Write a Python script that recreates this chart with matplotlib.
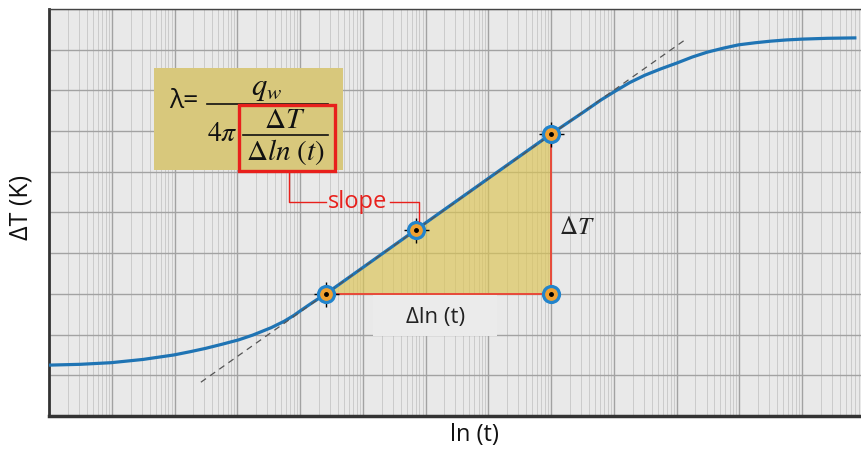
import numpy as np
import matplotlib
matplotlib.use("Agg")
import matplotlib.pyplot as plt
from matplotlib.patches import Rectangle, Polygon
from matplotlib.lines import Line2D

plt.rcParams['font.family'] = ['Open Sans', 'DejaVu Sans']
plt.rcParams['mathtext.fontset'] = 'stix'

# curve: x in decades of t, y = delta T (K)
log_t = [0.0, 0.5, 0.99, 1.5, 1.99, 2.25, 2.49, 2.75, 3.02, 3.25, 3.54, 3.75,
         3.9, 4.01, 4.2, 4.41, 5.85, 8.0, 8.5, 8.8, 9.01, 9.13, 9.25, 9.49, 9.75,
         10.0, 10.25, 10.49, 10.75, 10.99, 11.25, 11.5, 11.75, 12.0, 12.4, 12.84]
dT = [1.25, 1.27, 1.31, 1.39, 1.50, 1.58, 1.66, 1.76, 1.87, 1.99, 2.17, 2.33,
      2.47, 2.59, 2.79, 3.0, 4.58, 6.93, 7.45, 7.77, 7.97, 8.08, 8.19, 8.37, 8.53,
      8.67, 8.82, 8.94, 9.04, 9.12, 9.17, 9.21, 9.24, 9.26, 9.28, 9.29]

# tangent through the straight part
tan_log_t = [2.42, 10.16]
tan_dT = [0.83, 9.27]

# the three picked points on the curve and the corner of the triangle
pts_log_t = [4.41, 5.85, 8.0]
pts_dT = [3.0, 4.58, 6.93]
corner = (8.0, 3.0)

W, H = 862, 450


def fx(x):
    return x / W


def fy(y):
    return 1 - y / H


fig = plt.figure(figsize=(W / 100, H / 100), dpi=100)
ax = fig.add_axes([49 / W, 34 / H, 813 / W, 407 / H])
ax.set_facecolor('#e9e9e9')
ax.set_xscale('log')
ax.set_xlim(1, 10 ** 12.84)
ax.set_ylim(0, 10)

t = 10 ** np.array(log_t)
ax.set_xticks(10.0 ** np.arange(0, 13))
ax.set_xticks([m * 10.0 ** k for k in range(13) for m in range(2, 10)], minor=True)
ax.set_yticks(np.arange(0, 11))
ax.grid(True, which='major', axis='x', color='#a2a2a2', lw=1.0)
ax.grid(True, which='minor', axis='x', color='#c6c6c6', lw=0.6)
ax.grid(True, which='major', axis='y', color='#a2a2a2', lw=1.0)
ax.tick_params(which='both', length=0, labelbottom=False, labelleft=False)
for s in ['left', 'bottom']:
    ax.spines[s].set_color('#333333')
ax.spines['left'].set_linewidth(2)
ax.spines['bottom'].set_linewidth(2.5)
ax.spines['top'].set_linewidth(1)
ax.spines['top'].set_color('#444444')
ax.spines['right'].set_visible(False)

# slope triangle
tri = Polygon([(10 ** pts_log_t[0], pts_dT[0]), (10 ** corner[0], corner[1]),
               (10 ** pts_log_t[2], pts_dT[2])], closed=True,
              facecolor='#dcc452', alpha=0.65, edgecolor='none', zorder=2)
ax.add_patch(tri)
ax.plot([10 ** pts_log_t[0], 10 ** corner[0], 10 ** pts_log_t[2]],
        [pts_dT[0], corner[1], pts_dT[2]], color='#e84a3a', lw=1.4, zorder=3)

# label box for delta ln(t)
ax.add_patch(Rectangle((fx(373), fy(336)), 124 / W, 41 / H,
                       transform=fig.transFigure, facecolor='#ebebeb',
                       edgecolor='none', zorder=2.5))

ax.plot(t, dT, color='#1f74b4', lw=2.3, zorder=4, solid_joinstyle='round')
ax.plot(10 ** np.array(tan_log_t), tan_dT, color='#555555', lw=0.9,
        dashes=(5, 4), zorder=5)

px = 10 ** np.array(pts_log_t)
ax.plot(px, pts_dT, ls='none', marker='+', ms=18, mew=1.0, color='black', zorder=6)
ax.plot(list(px) + [10 ** corner[0]], pts_dT + [corner[1]], ls='none', marker='o',
        ms=11.5, mfc='#f0a030', mec='#2284cc', mew=2.3, zorder=7)
ax.plot(list(px) + [10 ** corner[0]], pts_dT + [corner[1]], ls='none', marker='o',
        ms=2.5, color='black', zorder=8)

fig.text(fx(577), fy(227), r'$\Delta T$', fontsize=18, ha='center', va='center',
         color='#222222', zorder=5)
fig.text(fx(436), fy(317), 'Δln (t)', fontsize=16, ha='center', va='center',
         color='#222222', zorder=5)

# formula box
fig.add_artist(Rectangle((fx(154), fy(170)), 189 / W, 102 / H,
                         facecolor='#d8c87c', edgecolor='none', zorder=1))
fig.text(fx(184), fy(102), 'λ=', fontsize=19, ha='center', va='center', color='#111111', zorder=3)
fig.text(fx(267), fy(88), r'$q_w$', fontsize=22, ha='center', va='center', color='#111111', zorder=3)
fig.add_artist(Line2D([fx(207), fx(328)], [fy(104), fy(104)], color='#111111', lw=1.2, zorder=3))
fig.text(fx(222), fy(134), r'$4\pi$', fontsize=20, ha='center', va='center', color='#111111', zorder=3)
fig.text(fx(285), fy(120), r'$\Delta T$', fontsize=21, ha='center', va='center', color='#111111', zorder=3)
fig.add_artist(Line2D([fx(243), fx(328)], [fy(135), fy(135)], color='#111111', lw=1.2, zorder=3))
fig.text(fx(285), fy(152), r'$\Delta ln\ (t)$', fontsize=21, ha='center', va='center', color='#111111', zorder=3)
fig.add_artist(Rectangle((fx(239), fy(171)), 96 / W, 66 / H, facecolor='none',
                         edgecolor='#e8201c', lw=2.4, zorder=4))

# slope callout
red = '#e8201c'
fig.add_artist(Line2D([fx(289), fx(289), fx(326)], [fy(172), fy(202), fy(202)], color=red, lw=1.0, zorder=4))
fig.add_artist(Line2D([fx(390), fx(419), fx(419)], [fy(202), fy(202), fy(221)], color=red, lw=1.0, zorder=4))
fig.text(fx(358), fy(202), 'slope', fontsize=17, ha='center', va='center', color=red, zorder=4)

fig.text(fx(21), fy(207), 'ΔT (K)', fontsize=18, rotation=90, ha='center', va='center', color='#111111')
fig.text(fx(474), fy(435), 'ln (t)', fontsize=17, ha='center', va='center', color='#111111')

fig.savefig('out.png', dpi=100)
